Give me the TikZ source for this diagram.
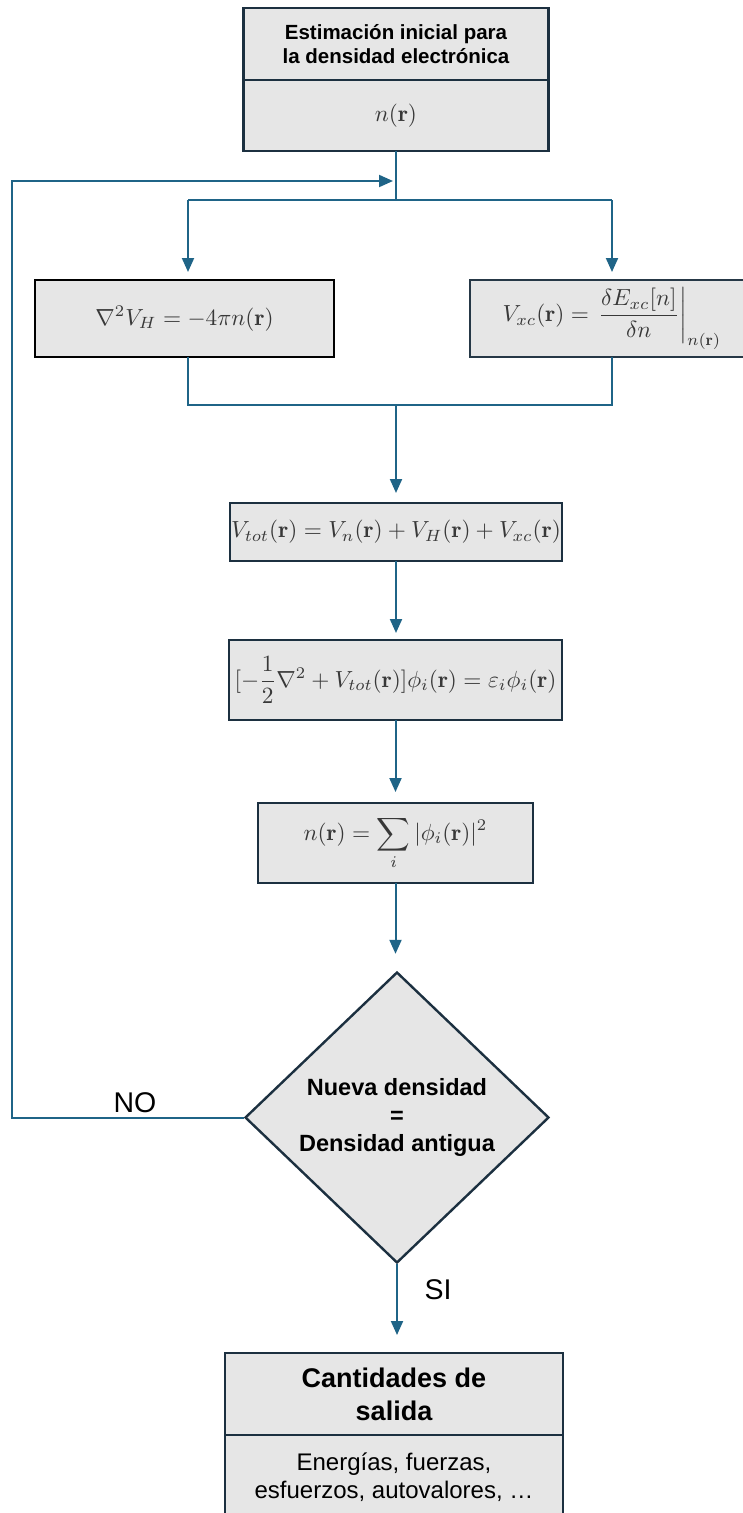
\documentclass[tikz,border=0pt]{standalone}
\usepackage{amsmath}
\usepackage{fontspec}
\newfontfamily\arial{Liberation Sans}
\usetikzlibrary{arrows.meta,shapes.geometric}
\definecolor{linec}{HTML}{1F6487}
\definecolor{boxf}{HTML}{E6E6E6}
\definecolor{boxb}{HTML}{1C3040}
\definecolor{mathc}{HTML}{383838}
\newcommand{\mbig}[1]{\scalebox{2.33}{#1}}
\begin{document}
\begin{tikzpicture}[x=1pt,y=-1pt,
  conn/.style={draw=linec, line width=2pt},
  arr/.style={conn, -{Triangle[length=14pt,width=12pt]}},
  box/.style={draw=boxb, fill=boxf, line width=2.4pt, inner sep=0pt, outer sep=0pt},
  mathtxt/.style={text=mathc},
  titletxt/.style={align=center, font=\arial\bfseries\fontsize{20.5}{24.5}\selectfont},
  lbl/.style={font=\arial\fontsize{28.5}{30}\selectfont}]
\useasboundingbox (0,0) rectangle (742,1513);

% top box
\node[box, titletxt, minimum width=305pt, minimum height=72pt] (topA) at (396,44) {Estimación inicial para\\la densidad electrónica};
\node[box, mathtxt, minimum width=305pt, minimum height=71pt] (topB) at (396,115.5) {\mbig{$n(\mathbf{r})$}};

\coordinate (j1) at (396,181);
\coordinate (j2) at (396,200);
\coordinate (bl) at (188,200);
\coordinate (br) at (612,200);
\coordinate (ml) at (188,405);
\coordinate (mr) at (612,405);
\coordinate (m) at (396,405);

% potentials
\node[box, draw=black, mathtxt, minimum width=299pt, minimum height=77pt] (hart) at (184.5,318.5) {\mbig{$\nabla^2 V_H = -4\pi n(\mathbf{r})$}};
\node[box, draw=boxb!90!gray, mathtxt, minimum width=284pt, minimum height=77pt] (xc) at (612,318.5) {\mbig{$V_{xc}(\mathbf{r}) = \left.\dfrac{\delta E_{xc}[n]}{\delta n}\right|_{n(\mathbf{r})}$}};

\node[box, mathtxt, minimum width=332pt, minimum height=58pt] (vtot) at (396,532) {\mbig{$V_{tot}(\mathbf{r}) = V_n(\mathbf{r}) + V_H(\mathbf{r}) + V_{xc}(\mathbf{r})$}};
\node[box, mathtxt, minimum width=333pt, minimum height=80pt] (ks) at (395.5,680) {\mbig{$[-\dfrac{1}{2}\nabla^2 + V_{tot}(\mathbf{r})]\phi_i(\mathbf{r}) = \varepsilon_i\phi_i(\mathbf{r})$}};
\node[box, mathtxt, minimum width=275pt, minimum height=80pt] (dens) at (395.5,843) {\mbig{$n(\mathbf{r}) = \displaystyle\sum_i |\phi_i(\mathbf{r})|^2$}};

% decision
\node[diamond, draw=boxb, fill=boxf, line width=2.4pt, minimum width=304pt, minimum height=291pt, inner sep=0pt, align=center, font=\arial\bfseries\fontsize{23.5}{28}\selectfont] (dec) at (397,1117.5) {Nueva densidad\\=\\Densidad antigua};

% output
\node[box, align=center, font=\arial\bfseries\fontsize{27}{33}\selectfont, minimum width=338pt, minimum height=82pt] (outA) at (394,1394) {Cantidades de\\salida};
\node[box, align=center, font=\arial\fontsize{24}{28}\selectfont, minimum width=338pt, minimum height=85pt] (outB) at (394,1477.5) {Energías, fuerzas,\\esfuerzos, autovalores, …};

% connectors
\draw[conn] (topB.south) -- (j2);
\draw[conn] (bl) -- (br);
\draw[arr, shorten >=8pt] (bl) -- (bl |- hart.north);
\draw[arr, shorten >=8pt] (br) -- (br |- xc.north);
\draw[conn] (bl |- hart.south) -- (ml) -- (mr) -- (br |- xc.south);
\draw[arr, shorten >=10pt] (m) -- (m |- vtot.north);
\draw[arr, shorten >=7pt] (vtot.south) -- (vtot.south |- ks.north);
\draw[arr, shorten >=11pt] (ks.south) -- (ks.south |- dens.north);
\draw[arr, shorten >=17pt] (dens.south) -- (dens.south |- dec.north);
\draw[arr, shorten >=18pt] (dec.south) -- (dec.south |- outA.north);

\coordinate (lp1) at (12,1117.5);
\coordinate (lp2) at (12,181);
\draw[arr, shorten >=3pt] (dec.west) -- (lp1) -- (lp2) -- (j1);

\node[lbl] (no) at (135,1103) {NO};
\node[lbl] (si) at (438,1290) {SI};
\end{tikzpicture}
\end{document}
